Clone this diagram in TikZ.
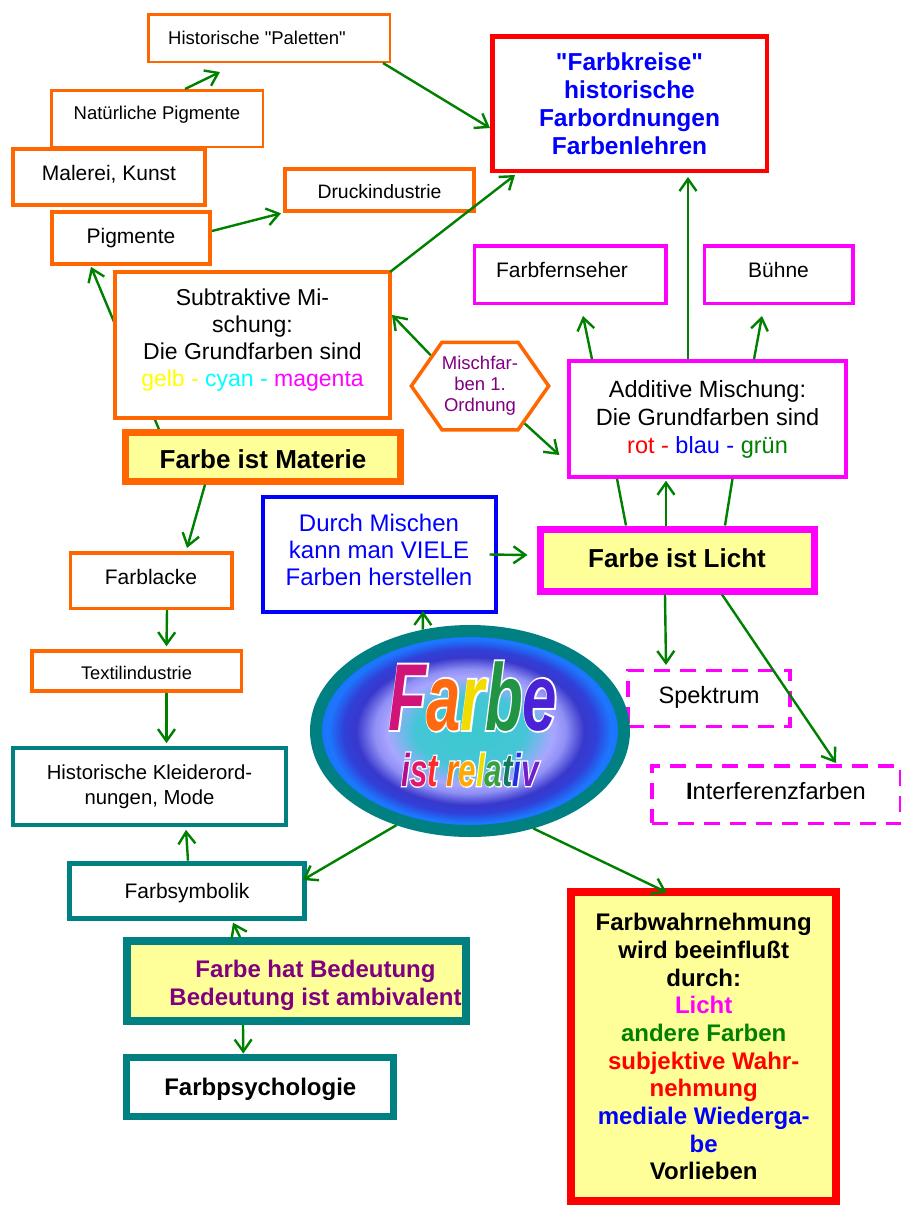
\documentclass[tikz,border=0pt]{standalone}
\usepackage{fontspec}
\setmainfont{Liberation Sans}[Ligatures=TeXOff]
% emboldened copy used as a white halo behind the title lettering
\newfontfamily\halofamily{Liberation Sans}[Ligatures=TeXOff, FakeBold=4]
\newfontfamily\halofamilyb{Liberation Sans}[Ligatures=TeXOff, FakeBold=6]
\usepackage{graphicx}
\usetikzlibrary{arrows.meta,shapes.geometric,shapes.symbols}

% palette (pure RGB)
\definecolor{orng}{HTML}{FF6600}
\definecolor{mag}{HTML}{FF00FF}
\definecolor{cyn}{HTML}{00FFFF}
\definecolor{ylw}{HTML}{FFFF00}
\definecolor{rd}{HTML}{FF0000}
\definecolor{bl}{HTML}{0000FF}
\definecolor{tealb}{HTML}{008080}
\definecolor{grn}{HTML}{008000}
\definecolor{yel}{HTML}{FFFF99}
\definecolor{purp}{HTML}{800080}
% letter colours of the title
\definecolor{fb1}{HTML}{D0147A}
\definecolor{fb2}{HTML}{FF6A10}
\definecolor{fb3}{HTML}{F2DC00}
\definecolor{fb4}{HTML}{219446}
\definecolor{fb5}{HTML}{4A22D8}
\definecolor{ir1}{HTML}{B0108C}
\definecolor{ir2}{HTML}{E0186A}
\definecolor{ir3}{HTML}{FF2A2A}
\definecolor{ir4}{HTML}{FF7A00}
\definecolor{ir5}{HTML}{FFAA00}
\definecolor{ir6}{HTML}{EEDD00}
\definecolor{ir7}{HTML}{3AA040}
\definecolor{ir8}{HTML}{107A5A}
\definecolor{ir9}{HTML}{2030E0}
\definecolor{ir10}{HTML}{7020C8}
% shading of the central ball
\definecolor{kb0}{HTML}{3CC8CF}
\definecolor{kb1}{HTML}{45C6D8}
\definecolor{kb2}{HTML}{A9A6FF}
\definecolor{kb3}{HTML}{9090F5}
\definecolor{kb4}{HTML}{3838CC}
\definecolor{kb5}{HTML}{3040D8}
\definecolor{kb6}{HTML}{1C78FF}
\definecolor{kb7}{HTML}{1A70F8}

\pgfdeclareradialshading{farbkugel}{\pgfpoint{0bp}{0bp}}{%
  color(0bp)=(kb0); color(9bp)=(kb1); color(13.5bp)=(kb2); color(15.5bp)=(kb3);
  color(18.5bp)=(kb4); color(20.5bp)=(kb5); color(23bp)=(kb6); color(25bp)=(kb7);
  color(50bp)=(kb7)}

\pgfdeclarelayer{background}
\pgfsetlayers{background,main}

\newcommand\setfs[2]{\fontsize{#1}{#2}\selectfont}
\newcommand\lt[2]{\textcolor{#1}{#2}}

\tikzset{
  box/.style={draw, fill=white, rectangle, inner sep=0pt, align=center},
  orngbox/.style={box, draw=orng},
  magbox/.style={box, draw=mag},
  tealbox/.style={box, draw=tealb},
  dashbox/.style={box, draw=mag, dash pattern=on 16pt off 10pt},
  sz/.style 2 args={minimum width=#1, minimum height=#2},
  arr/.style={draw=grn, line width=2.4pt, -{Straight Barb[length=12pt,width=17pt]}},
  lnk/.style={draw=grn, line width=2.4pt},
  farbe/.style={anchor=base, inner sep=0pt},
}

\begin{document}
\begin{tikzpicture}[x=1pt, y=-1pt]
\useasboundingbox (0,0) rectangle (901,1205);

% ---------- material side (orange) ----------
\node[orngbox, line width=2.5pt, sz={241.5pt}{47.5pt}, font=\setfs{18.5}{22},
      text height=13.2pt, text depth=0pt] (pal) at (269,38) {\hspace*{-24pt}Historische "Paletten"};
\node[orngbox, line width=2.5pt, sz={211.5pt}{56.5pt}, font=\setfs{18.5}{22},
      text height=13.2pt, text depth=11.6pt] (natpig) at (157,118.5) {Natürliche Pigmente};
\node[orngbox, line width=4pt, sz={192pt}{56.7pt}, font=\setfs{21}{25},
      text height=15pt, text depth=9pt] (malerei) at (109,177) {Malerei, Kunst};
\node[orngbox, line width=4pt, sz={158pt}{51.7pt}, font=\setfs{21}{25},
      text height=15pt, text depth=5pt] (pig) at (131,238) {Pigmente};
\node[orngbox, line width=4pt, sz={189pt}{42.6pt}, font=\setfs{19.4}{23},
      text height=17.9pt, text depth=0pt] (druck) at (379.5,190) {Druckindustrie};
\node[orngbox, line width=4pt, sz={275pt}{146pt}, font=\setfs{23}{27}] (subtr) at (252.5,345)
  {Subtraktive Mi-\\schung:\\Die Grundfarben sind\\
   \lt{ylw}{gelb -} \lt{cyn}{cyan -} \lt{mag}{magenta}\rule[-15pt]{0pt}{0pt}};
\node[orngbox, fill=yel, line width=7pt, sz={275pt}{48.3pt}, font=\setfs{26}{30}\bfseries,
      text height=22.6pt, text depth=0pt] (materie) at (263,457) {Farbe ist Materie};
\node[orngbox, line width=3.5pt, sz={161.5pt}{55.5pt}, font=\setfs{21}{25},
      text height=15pt, text depth=8pt] (farblacke) at (151,580.5) {Farblacke};
\node[orngbox, line width=3.5pt, sz={209.5pt}{40pt}, font=\setfs{18.3}{22},
      text height=17.1pt, text depth=0pt] (textil) at (136.5,671) {Textilindustrie};

% ---------- colour orders ----------
\node[box, draw=rd, line width=4.5pt, sz={274.5pt}{134.5pt}, text=bl,
      font=\setfs{24.5}{28}\bfseries] (farbk) at (629.5,103.5)
  {"Farbkreise"\\historische\\Farbordnungen\\Farbenlehren};

% ---------- light side (magenta) ----------
\node[magbox, line width=3.5pt, sz={191.5pt}{57.5pt}, font=\setfs{21}{25},
      text height=15pt, text depth=10pt] (fern) at (570,274.5) {\hspace*{-16pt}Farbfernseher};
\node[magbox, line width=3.5pt, sz={148.5pt}{57.5pt}, font=\setfs{21}{25},
      text height=15pt, text depth=10pt] (buehne) at (778.5,274.5) {Bühne};
\node[magbox, line width=3.5pt, sz={277pt}{116pt}, font=\setfs{23.5}{28}] (additive) at (707.5,419)
  {Additive Mischung:\\Die Grundfarben sind\\
   \lt{rd}{rot -} \lt{bl}{blau -} \lt{grn}{grün}};
\node[signal, signal to=west and east, signal pointer angle=110, draw=orng, fill=white,
      line width=3.5pt, minimum width=121pt, minimum height=87.5pt, inner sep=0pt,
      align=center, text=purp, font=\setfs{18.5}{21}] (hex) at (480,386)
  {Mischfar-\\ben 1.\\Ordnung};
\node[box, draw=bl, line width=4pt, sz={233pt}{115pt}, text=bl,
      font=\setfs{24}{27}] (mischen) at (379,554.5)
  {Durch Mischen\\kann man VIELE\\Farben herstellen\rule[-9.6pt]{0pt}{0pt}};
\node[magbox, fill=yel, line width=7pt, sz={274pt}{62pt}, font=\setfs{26}{30}\bfseries,
      text height=18.6pt, text depth=4pt] (licht) at (677,560) {Farbe ist Licht};
\node[dashbox, line width=3.5pt, sz={162pt}{56pt}, font=\setfs{23.6}{27},
      text height=16.9pt, text depth=7pt] (spektrum) at (709,698.7) {Spektrum};
\node[dashbox, line width=3.5pt, sz={248.5pt}{57.5pt}, font=\setfs{23.6}{27},
      text height=16.9pt, text depth=6pt] (interf) at (776,794.5) {\textbf{I}nterferenzfarben};

% ---------- meaning side (teal) ----------
\node[tealbox, line width=4pt, sz={273pt}{76.7pt}, font=\setfs{20.3}{25}] (kleider) at (149.5,786.5)
  {Historische Kleiderord-\\nungen, Mode};
\node[tealbox, line width=5pt, sz={234.4pt}{55pt}, font=\setfs{21}{25},
      text height=15pt, text depth=0pt] (symbolik) at (187,890.7) {Farbsymbolik};
\node[tealbox, fill=yel, line width=8pt, sz={339pt}{80pt}, text=purp,
      font=\setfs{24}{28}\bfseries] (bedeutung) at (296.5,981)
  {\rule{0pt}{26.2pt}\hspace*{38pt}Farbe hat Bedeutung\\\hspace*{38pt}Bedeutung ist ambivalent};
\node[tealbox, line width=7pt, sz={267pt}{59pt}, font=\setfs{24}{28}\bfseries,
      text height=17.2pt, text depth=0pt] (psych) at (260.3,1086.5) {Farbpsychologie};

% ---------- perception ----------
\node[box, draw=rd, fill=yel, line width=8pt, sz={264.7pt}{308.7pt},
      font=\setfs{24}{27.7}\bfseries] (wahr) at (703.7,1046.7)
  {Farbwahrnehmung\\wird beeinflußt\\durch:\\\lt{mag}{Licht}\\
   \lt{grn}{andere Farben}\\\lt{rd}{subjektive Wahr-}\\\lt{rd}{nehmung}\\
   \lt{bl}{mediale Wiederga-}\\\lt{bl}{be}\\Vorlieben};

% ---------- centre: the ball with its title ----------
\node[ellipse, draw=tealb, line width=12pt, shading=farbkugel, minimum width=308pt,
      minimum height=200pt, inner sep=0pt] (ell) at (470,731) {};
\node[farbe, text=white, font=\halofamily\setfs{95}{95}\bfseries\itshape] (farbe-halo) at (473,730)
  {\scalebox{0.65}[1]{Farbe}};
\node[farbe, text=white, font=\halofamilyb\setfs{46}{46}\bfseries\itshape] (relativ-halo) at (470,786)
  {\scalebox{0.68}[1]{ist relativ}};
\node[farbe, font=\setfs{95}{95}\bfseries\itshape] (farbe-text) at (473,730)
  {\scalebox{0.65}[1]{\lt{fb1}{F}\lt{fb2}{a}\lt{fb3}{r}\lt{fb4}{b}\lt{fb5}{e}}};
\node[farbe, font=\setfs{46}{46}\bfseries\itshape] (relativ-text) at (470,786)
  {\scalebox{0.68}[1]{\lt{ir1}{i}\lt{ir2}{s}\lt{ir3}{t} \lt{ir4}{r}\lt{ir5}{e}\lt{ir6}{l}\lt{ir7}{a}\lt{ir8}{t}\lt{ir9}{i}\lt{ir10}{v}}};

% ---------- connectors ----------
\begin{pgfonlayer}{background}
  \draw[arr] ([xshift=37pt]materie.north west) -- ([xshift=-40pt,yshift=-1pt]pig.south);
\end{pgfonlayer}
\draw[arr] ([xshift=28pt]natpig.north) -- ([xshift=-49pt,yshift=-9pt]pal.south);
\draw[arr] ([xshift=-8pt]pal.south east) -- ([yshift=-24.5pt]farbk.west);
\draw[arr] ([yshift=7pt]pig.east) -- ([xshift=-2pt]druck.south west);
\draw[arr] ([xshift=-2pt,yshift=-2pt]subtr.north east) -- ([xshift=25pt,yshift=-2pt]farbk.south west);
\draw[arr] ([xshift=-58pt]materie.south) -- ([xshift=36pt,yshift=3pt]farblacke.north);
\draw[arr] ([xshift=16pt]farblacke.south) -- ([xshift=30pt,yshift=3pt]textil.north);
\draw[arr] ([xshift=30pt]textil.south) -- ([xshift=17pt,yshift=3pt]kleider.north);
\draw[arr] ([xshift=1pt]symbolik.north) -- ([xshift=36.5pt,yshift=-3pt]kleider.south);
\draw[arr] ([xshift=-56.5pt]bedeutung.north) -- ([xshift=46pt,yshift=-2pt]symbolik.south);
\draw[arr] ([xshift=-53.5pt]bedeutung.south) -- ([xshift=-17pt]psych.north);
\draw[arr] (ell.232) -- ([xshift=-4pt,yshift=10.7pt]symbolik.east);
\draw[arr] (ell.303) -- ([xshift=-37pt,yshift=-4pt]wahr.north);
\draw[arr] (ell.115) -- ([xshift=44pt,yshift=3pt]mischen.south);
\draw[arr] ([xshift=-8pt]mischen.east) -- ([xshift=-9pt,yshift=5pt]licht.west);
\draw[lnk] ([xshift=-51pt]licht.north) -- ([xshift=-90.5pt]additive.south);
\draw[arr] ([xshift=-11pt]licht.north) -- ([xshift=-41.5pt,yshift=-2pt]additive.south);
\draw[lnk] ([xshift=48pt]licht.north) -- ([xshift=25pt]additive.south);
\draw[arr] ([xshift=-12pt]licht.south) -- ([xshift=-43pt,yshift=4pt]spektrum.north);
\draw[arr] ([xshift=45pt]licht.south) -- ([xshift=60pt,yshift=1pt]interf.north);
\draw[arr] ([xshift=-115.5pt]additive.north) -- ([xshift=13pt,yshift=-11pt]fern.south);
\draw[arr] ([xshift=46.5pt]additive.north) -- ([xshift=-16.5pt,yshift=-11pt]buehne.south);
\draw[arr] ([xshift=-19.5pt]additive.north) -- ([xshift=58.5pt,yshift=-4pt]farbk.south);
\draw[arr] (hex.148) -- ([yshift=30pt]subtr.east);
\draw[arr] (hex.-40) -- ([xshift=-8pt,yshift=-36pt]additive.west);
\end{tikzpicture}
\end{document}
